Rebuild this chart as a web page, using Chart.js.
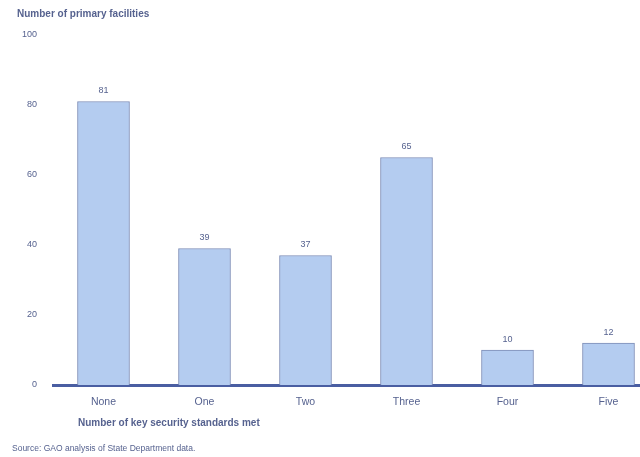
<!DOCTYPE html>
<html lang="en">
<head>
<meta charset="UTF-8">
<script src="https://cdn.jsdelivr.net/npm/chart.js"></script>
<title>Primary facilities by security standards met</title>
<style>
  html, body { margin: 0; padding: 0; background: #fff; overflow: hidden; }
  #wrap { width: 660px; height: 457px; }
</style>
</head>
<body>
<div id="wrap"><canvas id="facilities-chart"></canvas></div>
<script>
// facilities counted per number of key standards met
const standardsMet = ['None', 'One', 'Two', 'Three', 'Four', 'Five'];
const facilityCounts = [81, 39, 37, 65, 10, 12];
const yTicks = [0, 20, 40, 60, 80, 100];

const textColor = '#56628f';
const fontFamily = '"Liberation Sans", Arial, sans-serif';

// value labels above each bar, plus the title, axis title and source line
const annotations = {
  id: 'annotations',
  afterDatasetsDraw(chart) {
    const ctx = chart.ctx;
    const area = chart.chartArea;
    const meta = chart.getDatasetMeta(0);
    ctx.save();
    ctx.fillStyle = textColor;
    ctx.textAlign = 'center';
    ctx.textBaseline = 'bottom';
    ctx.font = '9px ' + fontFamily;
    meta.data.forEach((bar, i) => {
      ctx.fillText(String(facilityCounts[i]), bar.x, bar.y - 6);
    });

    ctx.textAlign = 'left';
    ctx.textBaseline = 'middle';
    ctx.font = 'bold 10px ' + fontFamily;
    ctx.fillText('Number of primary facilities', 17, 14);
    ctx.fillText('Number of key security standards met', area.left + 25, area.bottom + 38);
    ctx.font = '8.5px ' + fontFamily;
    ctx.fillText('Source: GAO analysis of State Department data.', 12, area.bottom + 64);
    ctx.restore();
  }
};

new Chart(document.getElementById('facilities-chart'), {
  type: 'bar',
  data: {
    labels: standardsMet,
    datasets: [{
      data: facilityCounts,
      backgroundColor: '#b4ccf0',
      borderColor: '#7c8cb6',
      borderWidth: 1,
      barThickness: 52
    }]
  },
  options: {
    responsive: true,
    maintainAspectRatio: false,
    animation: false,
    layout: { padding: { top: 35, right: 1, left: 0, bottom: 0 } },
    plugins: {
      legend: { display: false },
      tooltip: { enabled: false }
    },
    scales: {
      x: {
        z: 1,
        grid: { display: false, drawTicks: false },
        border: { display: true, color: '#4a5ea2', width: 3 },
        ticks: { color: textColor, font: { family: fontFamily, size: 10.5 }, padding: 11 },
        afterFit(scale) { scale.height = 72; }
      },
      y: {
        min: 0,
        max: 100,
        grid: { display: false, drawTicks: false },
        border: { display: false },
        afterBuildTicks(scale) { scale.ticks = yTicks.map(v => ({ value: v })); },
        ticks: { color: textColor, font: { family: fontFamily, size: 9 }, padding: 16 },
        afterFit(scale) { scale.width = 53; }
      }
    }
  },
  plugins: [annotations]
});
</script>
</body>
</html>
